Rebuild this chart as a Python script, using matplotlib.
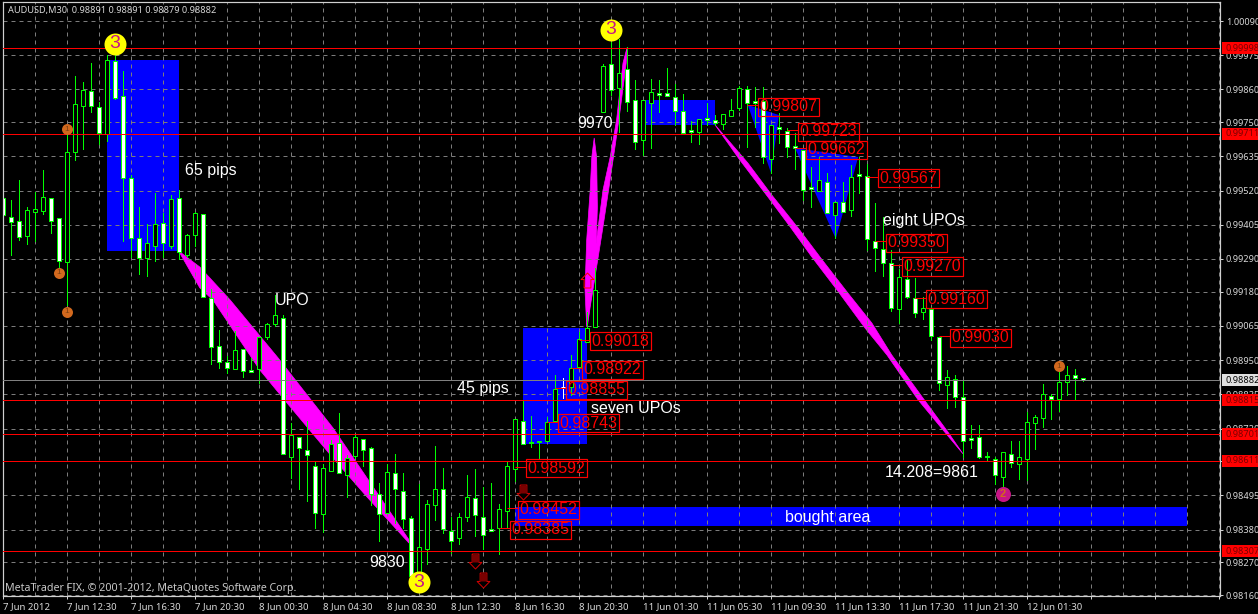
#!/usr/bin/python

import numpy as np
import matplotlib
matplotlib.use('Agg')
import matplotlib.pyplot as plt
from matplotlib.patches import Polygon, Rectangle

plt.rcParams['font.family'] = ['Liberation Sans', 'DejaVu Sans']

# 30 minute bars, prices in points (1e-5)
opens = [99495, 99431, 99418, 99368, 99448, 99452, 99495, 99428, 99280, 99650,
         99805, 99855, 99801, 99710, 99956, 99838, 99563, 99361, 99294, 99334,
         99411, 99334, 99495, 99304, 99371, 99441, 99159, 98998, 98944, 98920,
         98988, 98917, 98920, 99028, 99072, 99092, 98625, 98692, 98648, 98594,
         98433, 98577, 98672, 98564, 98628, 98685, 98655, 98500, 98436, 98571,
         98510, 98420, 98238, 98315, 98463, 98517, 98376, 98352, 98423, 98487,
         98423, 98382, 98386, 98443, 98584, 98746, 98675, 98675, 98678, 98746,
         98860, 98860, 98927, 99011, 99062, 99784, 99946, 99865, 99929, 99825,
         99690, 99815, 99848, 99848, 99835, 99788, 99724, 99717, 99764, 99758,
         99744, 99771, 99798, 99862, 99821, 99821, 99626, 99734, 99721, 99670,
         99657, 99532, 99519, 99549, 99438, 99482, 99455, 99576, 99569, 99351,
         99324, 99277, 99122, 99223, 99159, 99112, 99122, 99028, 98867, 98887,
         98826, 98688, 98692, 98628, 98618, 98557, 98635, 98601, 98618, 98739,
         98756, 98830, 98820, 98877, 98900, 98891]
highs = [99526, 99489, 99556, 99465, 99516, 99590, 99495, 99428, 99724, 99905,
         99885, 99949, 99818, 99976, 99976, 99922, 99573, 99465, 99408, 99512,
         99445, 99505, 99522, 99374, 99448, 99441, 99189, 99051, 98964, 99048,
         98988, 98957, 99028, 99075, 99169, 99102, 98739, 98692, 98746, 98611,
         98601, 98682, 98772, 98631, 98702, 98685, 98658, 98537, 98601, 98635,
         98571, 98426, 98534, 98480, 98661, 98588, 98423, 98436, 98564, 98584,
         98524, 98537, 98467, 98611, 98752, 98816, 98762, 98678, 98759, 98900,
         98890, 98967, 99045, 99112, 99260, 99946, 100020, 100030, 100003, 99892,
         99825, 99895, 99892, 99932, 99879, 99845, 99754, 99761, 99815, 99774,
         99778, 99828, 99872, 99872, 99868, 99868, 99741, 99781, 99731, 99714,
         99657, 99600, 99633, 99579, 99482, 99549, 99606, 99633, 99610, 99478,
         99431, 99320, 99257, 99287, 99226, 99162, 99129, 99028, 98917, 98900,
         98883, 98732, 98732, 98641, 98625, 98641, 98678, 98678, 98776, 98766,
         98870, 98836, 98934, 98930, 98920, 98891]
lows = [99320, 99304, 99354, 99341, 99351, 99441, 99378, 99260, 99136, 99623,
        99660, 99784, 99677, 99687, 99828, 99351, 99297, 99240, 99233, 99283,
        99297, 99327, 99290, 99297, 99334, 99162, 98937, 98924, 98907, 98920,
        98893, 98910, 98873, 99021, 99065, 98635, 98554, 98517, 98477, 98386,
        98372, 98577, 98571, 98490, 98621, 98594, 98463, 98342, 98436, 98403,
        98386, 98225, 98218, 98265, 98413, 98369, 98302, 98332, 98409, 98359,
        98315, 98376, 98298, 98386, 98544, 98668, 98658, 98621, 98678, 98746,
        98823, 98833, 98927, 99011, 99062, 99784, 99842, 99717, 99788, 99660,
        99640, 99663, 99784, 99838, 99741, 99714, 99684, 99677, 99741, 99741,
        99727, 99771, 99791, 99667, 99734, 99613, 99579, 99680, 99633, 99593,
        99489, 99465, 99519, 99445, 99361, 99448, 99435, 99512, 99320, 99250,
        99233, 99115, 99075, 99159, 99095, 99088, 99018, 98850, 98789, 98793,
        98625, 98655, 98621, 98615, 98534, 98514, 98591, 98551, 98547, 98651,
        98725, 98752, 98779, 98833, 98820, 98879]
closes = [99438, 99415, 99364, 99455, 99458, 99499, 99418, 99283, 99650, 99811,
          99858, 99805, 99714, 99959, 99831, 99563, 99361, 99294, 99344, 99408,
          99344, 99492, 99314, 99371, 99445, 99162, 98994, 98944, 98924, 98984,
          98914, 98910, 99028, 99072, 99102, 98635, 98699, 98655, 98631, 98436,
          98588, 98668, 98571, 98621, 98692, 98648, 98500, 98433, 98574, 98517,
          98416, 98225, 98322, 98467, 98517, 98382, 98342, 98423, 98490, 98430,
          98362, 98376, 98450, 98594, 98752, 98668, 98672, 98678, 98742, 98853,
          98860, 98924, 99021, 99058, 99186, 99939, 99858, 99916, 99818, 99684,
          99825, 99852, 99842, 99838, 99788, 99714, 99717, 99761, 99758, 99747,
          99778, 99791, 99865, 99815, 99815, 99633, 99741, 99727, 99667, 99663,
          99522, 99526, 99556, 99445, 99482, 99448, 99566, 99569, 99358, 99327,
          99277, 99125, 99230, 99162, 99109, 99125, 99031, 98873, 98893, 98826,
          98678, 98682, 98625, 98625, 98564, 98641, 98604, 98625, 98742, 98759,
          98836, 98820, 98877, 98900, 98890, 98882]

price_ticks = ['1.00090', '0.99975', '0.99860', '0.99750', '0.99635', '0.99520',
               '0.99405', '0.99290', '0.99180', '0.99065', '0.98950', '0.98835',
               '0.98720', '0.98610', '0.98495', '0.98380', '0.98270', '0.98160']
time_ticks = ['7 Jun 2012', '7 Jun 12:30', '7 Jun 16:30', '7 Jun 20:30',
              '8 Jun 00:30', '8 Jun 04:30', '8 Jun 08:30', '8 Jun 12:30',
              '8 Jun 16:30', '8 Jun 20:30', '11 Jun 01:30', '11 Jun 05:30',
              '11 Jun 09:30', '11 Jun 13:30', '11 Jun 17:30', '11 Jun 21:30',
              '12 Jun 01:30']

red_levels = ['0.99998', '0.99711', '0.98815', '0.98701', '0.98611', '0.98307']
bid = '0.98882'

# zones: first bar, last bar, top, bottom (points)
zone_left = [13, 65, 64, 80]
zone_right = [22, 73, 148, 89]
zone_top = [99959, 99058, 98456, 99825]
zone_bottom = [99317, 98668, 98393, 99741]

tri_a_bars = [93.1, 97, 96]
tri_a_pts = [99808, 99774, 99579]
tri_b_bars = [99, 106.9, 104.1]
tri_b_pts = [99663, 99633, 99358]

# magenta legs
leg_a_bars = [22.1, 24.6, 28.4, 34.4, 41.25, 50.75, 50.75, 45.5, 41.25, 35.5, 32.1, 26.25, 24.6, 22.1]
leg_a_pts = [99314, 99263, 99152, 98957, 98722, 98346, 98335, 98490, 98621, 98806, 98917, 99152, 99193, 99310]
leg_b_bars = [72.96, 72.75, 72.96, 73.4, 73.6, 73.9, 74.2, 74.3, 74.1, 73.5]
leg_b_pts = [99062, 99186, 99354, 99522, 99633, 99697, 99633, 99465, 99297, 99162]
leg_c_bars = [73.04, 73.1, 73.75, 74.4, 75, 75.9, 76.7, 77.5, 78, 77.9, 77.1, 76.5, 75.7, 75, 74.2, 73.4]
leg_c_pts = [99062, 99095, 99263, 99398, 99522, 99633, 99758, 99949, 100000, 99949, 99781, 99667, 99522, 99398, 99263, 99129]
leg_d_bars = [89, 93.1, 96.1, 99.4, 102.4, 105.6, 108.6, 111.1, 114.9, 118.1, 120,
              118, 114.4, 110.5, 107.75, 104.25, 101.1, 98.4, 95.6, 92.1]
leg_d_pts = [99741, 99613, 99505, 99394, 99287, 99176, 99075, 98967, 98826, 98709, 98635,
             98699, 98816, 98967, 99058, 99186, 99297, 99398, 99499, 99623]

# order labels: price text and the bar they hang from
order_labels = ['0.99018', '0.98922', '0.98855', '0.98743', '0.98592', '0.98452', '0.98385',
                '0.99807', '0.99723', '0.99662', '0.99567', '0.99350', '0.99270', '0.99160', '0.99030']
order_bars = [72, 71, 69, 68, 64, 63, 62, 93, 98, 99, 108, 109, 111, 114, 117]

notes = ['65 pips', 'UPO', '45 pips', 'seven UPOs', '9830', '9970', 'eight UPOs', '14.208=9861', 'bought area']
note_bars = [22.75, 34, 56.75, 73.5, 45.75, 71.75, 110, 110.25, 97.75]
note_pts = [99586, 99152, 98856, 98786, 98268, 99744, 99418, 98571, 98420]

wave3_bars = [14, 76, 52]
wave3_pts = [100013, 100060, 98204]
wave1_bars = [8, 7, 8, 132]
wave1_pts = [99727, 99243, 99112, 98930]
wave2_bars = [125]
wave2_pts = [98500]

down_bars = [59, 60, 65]
down_pts = [98275, 98211, 98507]
up_bars = [73]
up_pts = [99220]

white_bar = 70

W, H = 1258, 614
x0, x1, y0, y1 = 3, 1220, 2, 596
PT = 72 / 100.  # one pixel in points

fig = plt.figure(figsize=(W / 100., H / 100.), dpi=100, facecolor='black')
ax = fig.add_axes([x0 / W, 1 - y1 / H, (x1 - x0) / W, (y1 - y0) / H], facecolor='black')
ax.set_xlim(0, (x1 - x0) / 8.)
ax.set_ylim(0.98157, 1.00154)
ax.set_axisbelow(True)

for side in ax.spines:
    ax.spines[side].set_color('#d0d0d0')
    ax.spines[side].set_linewidth(1.2 * PT)

bars = np.arange(len(opens))
o = np.array(opens) / 1e5
h = np.array(highs) / 1e5
l = np.array(lows) / 1e5
c = np.array(closes) / 1e5

# grid and axes
grid_style = dict(color='#7c7c7c', linewidth=PT, linestyle=(0, (4, 4)))
ax.set_xticks(np.arange(0, 153, 8))
ax.set_xticks(np.arange(4, 153, 8), minor=True)
ax.set_xticklabels(time_ticks + [''] * (len(ax.get_xticks()) - len(time_ticks)),
                   ha='left', fontsize=6.9, color='#d8d8d8', family=['Noto Sans', 'DejaVu Sans'])
ax.set_yticks([float(p) for p in price_ticks])
ax.set_yticklabels(price_ticks, fontsize=6.6, color='#d8d8d8', family=['Noto Sans', 'DejaVu Sans'])
ax.yaxis.tick_right()
ax.tick_params(axis='both', which='major', length=3 * PT, width=PT, color='#d0d0d0', pad=3 * PT)
ax.tick_params(axis='x', which='minor', length=0)
ax.grid(True, which='both', **grid_style)

# blue zones
for a, b, t, u in zip(zone_left, zone_right, zone_top, zone_bottom):
    ax.add_patch(Rectangle((a, u / 1e5), b - a, (t - u) / 1e5, fc='#0000ff', ec='none', zorder=0.2))
for bx, py in ((tri_a_bars, tri_a_pts), (tri_b_bars, tri_b_pts)):
    ax.add_patch(Polygon(np.column_stack([bx, np.array(py) / 1e5]), fc='#0000ff', ec='none', zorder=0.2))

# magenta legs
for bx, py in ((leg_a_bars, leg_a_pts), (leg_b_bars, leg_b_pts), (leg_c_bars, leg_c_pts), (leg_d_bars, leg_d_pts)):
    ax.add_patch(Polygon(np.column_stack([bx, np.array(py) / 1e5]), fc='#ff00ff', ec='#ff00ff', lw=0.5, zorder=0.3))

# candles
wick_colors = ['white' if i == white_bar else '#00ff00' for i in bars]
ax.vlines(bars, l, h, colors=wick_colors, linewidth=PT, zorder=2, antialiased=False)
body_colors = ['black' if a > b else 'white' for a, b in zip(c, o)]
body_low = np.minimum(o, c)
body_high = np.maximum(o, c)
keep = bars != white_bar
ax.bar(bars[keep], (body_high - body_low)[keep], bottom=body_low[keep], width=0.6,
       color=np.array(body_colors)[keep], edgecolor='#00ff00', linewidth=PT, zorder=2.1)
ax.hlines(o[white_bar], white_bar - 0.3, white_bar + 0.3, colors='white', linewidth=PT, zorder=2.1)

# horizontal levels and their tags on the price scale
for lvl in red_levels:
    p = float(lvl)
    ax.axhline(p, color='#ff0000', linewidth=PT, antialiased=False, zorder=3)
    ax.add_patch(Rectangle((1.0016, p - 0.0002), 0.04, 0.0004, transform=ax.get_yaxis_transform(),
                           fc='#ff0000', ec='none', clip_on=False, zorder=10))
    ax.text(1.0049, p, lvl, transform=ax.get_yaxis_transform(), color='#7a0000', fontsize=6.6,
            family=['Noto Sans', 'DejaVu Sans'], va='center', ha='left', zorder=11, clip_on=False)
p = float(bid)
ax.axhline(p, color='#808080', linewidth=PT, antialiased=False, zorder=3)
ax.add_patch(Rectangle((1.0016, p - 0.0002), 0.04, 0.0004, transform=ax.get_yaxis_transform(),
                       fc='#e0e0e0', ec='none', clip_on=False, zorder=10))
ax.text(1.0049, p, bid, transform=ax.get_yaxis_transform(), color='black', fontsize=6.6,
        family=['Noto Sans', 'DejaVu Sans'], va='center', ha='left', zorder=11, clip_on=False)

# order labels
for txt, bar in zip(order_labels, order_bars):
    p = float(txt)
    ax.hlines(p, bar, bar + 1.375, colors='#ff0000', linewidth=PT, zorder=4)
    ax.text(bar + 1.575, p, txt, color='#ff0000', fontsize=11.5, va='center_baseline', ha='left', zorder=5,
            bbox=dict(boxstyle='square,pad=0.1', fc='none', ec='#ff0000', lw=1.2 * PT))

for txt, bar, pts in zip(notes, note_bars, note_pts):
    ax.text(bar, pts / 1e5, txt, color='white', fontsize=11.5, va='center', ha='left', zorder=6)

# wave circles
ax.plot(wave3_bars, np.array(wave3_pts) / 1e5, 'o', ms=22 * PT, color='#ffff00', mec='none', zorder=7)
for bar, pts in zip(wave3_bars, wave3_pts):
    ax.text(bar, pts / 1e5, '3', color='#c71585', fontsize=14, ha='center', va='center', zorder=8)
ax.plot(wave1_bars, np.array(wave1_pts) / 1e5, 'o', ms=11 * PT, color='#d2691e', mec='none', zorder=7)
for bar, pts in zip(wave1_bars, wave1_pts):
    ax.text(bar, pts / 1e5, '1', color='#7a4010', fontsize=6, ha='center', va='center', zorder=8)
ax.plot(wave2_bars, np.array(wave2_pts) / 1e5, 'o', ms=15 * PT, color='#c71585', mec='none', zorder=7)
for bar, pts in zip(wave2_bars, wave2_pts):
    ax.text(bar, pts / 1e5, '2', color='#d2691e', fontsize=8, fontweight='bold', ha='center', va='center', zorder=8)

# arrows: dark shaft, hollow head
down_shape = [(-1.8, 4), (1.8, 4), (1.8, -0.5), (3.4, -0.5), (0, -4), (-3.4, -0.5), (-1.8, -0.5), (-1.8, 4)]
shaft_shape = [(-1.8, 4), (1.8, 4), (1.8, -0.5), (-1.8, -0.5), (-1.8, 4)]
up_shape = [(x, -y) for x, y in down_shape]
ax.plot(down_bars, np.array(down_pts) / 1e5, linestyle='none', marker=down_shape, ms=15 * PT,
        mfc='black', mec='#d00000', mew=PT, zorder=7)
ax.plot(down_bars, np.array(down_pts) / 1e5, linestyle='none', marker=shaft_shape, ms=15 * PT,
        mfc='#7a0000', mec='none', zorder=7.1)
ax.plot(up_bars, np.array(up_pts) / 1e5, linestyle='none', marker=up_shape, ms=15 * PT,
        mfc='none', mec='#ff0000', mew=PT, zorder=7)

fig.text(8 / W, 1 - 10 / H, 'AUDUSD,M30  0.98891 0.98891 0.98879 0.98882', color='#d8d8d8', fontsize=6.6,
         va='center', family=['Noto Sans', 'DejaVu Sans'])
fig.text(5 / W, 1 - 589 / H, 'MetaTrader FIX, \u00a9 2001-2012, MetaQuotes Software Corp.', color='#c8c8c8',
         fontsize=7.7, va='center', family=['Noto Sans', 'DejaVu Sans'], zorder=20)

fig.savefig('out.png', dpi=100, facecolor='black')
